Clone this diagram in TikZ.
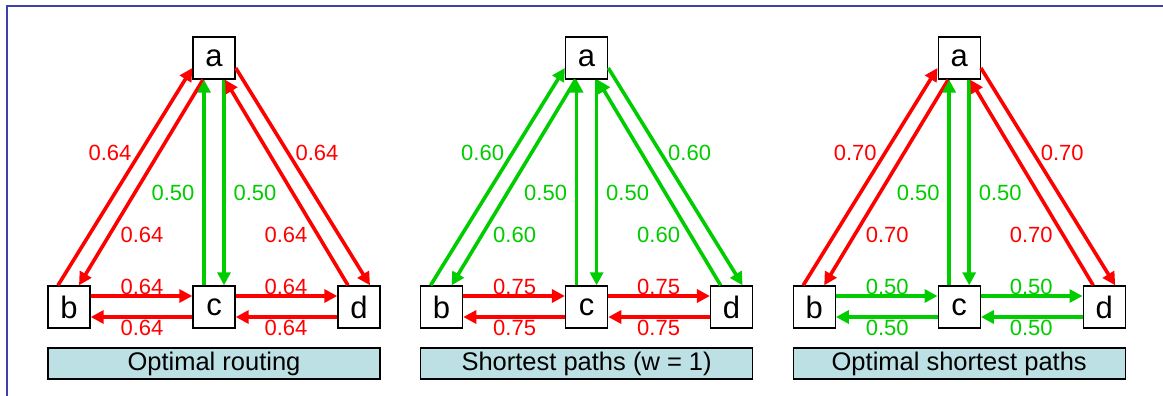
\documentclass[tikz,border=0pt]{standalone}
\usepackage{fontspec}
\setmainfont{Liberation Sans}
\usetikzlibrary{arrows.meta}

\definecolor{framecol}{RGB}{64,64,170}
\definecolor{flowred}{RGB}{255,0,0}
\definecolor{flowgreen}{RGB}{0,204,0}
\definecolor{captionfill}{RGB}{188,224,227}

\tikzset{
  vertex/.style={draw=black, line width=1.4pt, fill=white, minimum size=42pt,
    inner sep=0pt, font=\fontsize{31}{33}\selectfont},
  caption/.style={draw=black, line width=1.4pt, fill=captionfill, minimum width=332pt,
    minimum height=31pt, inner sep=0pt, font=\fontsize{25.5}{27}\selectfont},
  flow/.style={line width=3.6pt, -{Triangle[length=13pt,width=13pt]}},
  rflow/.style={flow, draw=flowred},
  gflow/.style={flow, draw=flowgreen},
  rlab/.style={text=flowred, font=\fontsize{22}{24}\selectfont, inner sep=0pt},
  glab/.style={text=flowgreen, font=\fontsize{22}{24}\selectfont, inner sep=0pt},
}

% One panel: #1 = x of node a, #2 = name prefix,
% #3..#6 = styles of b<->a, a<->c, a<->d, horizontal links,
% #7 = label of outer diagonals, #8 = label of horizontal links,
% #9 = caption text
\newcommand{\flowpanel}[9]{%
  \begin{scope}[xshift=#1pt]
    \node[vertex] (#2a) at (0,58) {a};
    \node[vertex] (#2b) at (-145,307) {b};
    \node[vertex] (#2c) at (0,307) {c};
    \node[vertex] (#2d) at (145,307) {d};
    \node[caption] (#2cap) at (0,363.5) {#9};
    % diagonal links on the left
    \draw[#3flow] ([xshift=-11pt]#2b.north) -- ([yshift=-10pt]#2a.west);
    \draw[#3flow] ([xshift=-11pt]#2a.south) -- ([xshift=10pt]#2b.north);
    % vertical links
    \draw[#4flow] ([xshift=-10pt]#2c.north) -- ([xshift=-10pt]#2a.south);
    \draw[#4flow] ([xshift=10pt]#2a.south) -- ([xshift=10pt]#2c.north);
    % diagonal links on the right
    \draw[#5flow] ([xshift=-11pt]#2d.north) -- ([xshift=11pt]#2a.south);
    \draw[#5flow] ([yshift=-10pt]#2a.east) -- ([xshift=11pt]#2d.north);
    % horizontal links
    \draw[#6flow] ([yshift=11pt]#2b.east) -- ([yshift=11pt]#2c.west);
    \draw[#6flow] ([yshift=-10pt]#2c.west) -- ([yshift=-10pt]#2b.east);
    \draw[#6flow] ([yshift=11pt]#2c.east) -- ([yshift=11pt]#2d.west);
    \draw[#6flow] ([yshift=-10pt]#2d.west) -- ([yshift=-10pt]#2c.east);
    % labels
    \node[#3lab] at (-104,153) {#7};
    \node[#3lab] at (-72,235) {#7};
    \node[#5lab] at (103,153) {#7};
    \node[#5lab] at (72,235) {#7};
    \node[#4lab] at (-41,193) {0.50};
    \node[#4lab] at (41,193) {0.50};
    \node[#6lab] at (-72,287) {#8};
    \node[#6lab] at (-72,328) {#8};
    \node[#6lab] at (72,287) {#8};
    \node[#6lab] at (72,328) {#8};
  \end{scope}%
}

\begin{document}
\begin{tikzpicture}[x=1pt, y=-1pt]
  \useasboundingbox (0,0) rectangle (1163,396);
  % frame
  \draw[framecol, line width=2pt] (7,396) -- (7,6) -- (1163,6);

  \flowpanel{214}{p}{r}{g}{r}{r}{0.64}{0.64}{Optimal routing}
  \flowpanel{586.6}{q}{g}{g}{g}{r}{0.60}{0.75}{Shortest paths (w = 1)}
  \flowpanel{959.2}{s}{r}{g}{r}{g}{0.70}{0.50}{Optimal shortest paths}
\end{tikzpicture}
\end{document}
